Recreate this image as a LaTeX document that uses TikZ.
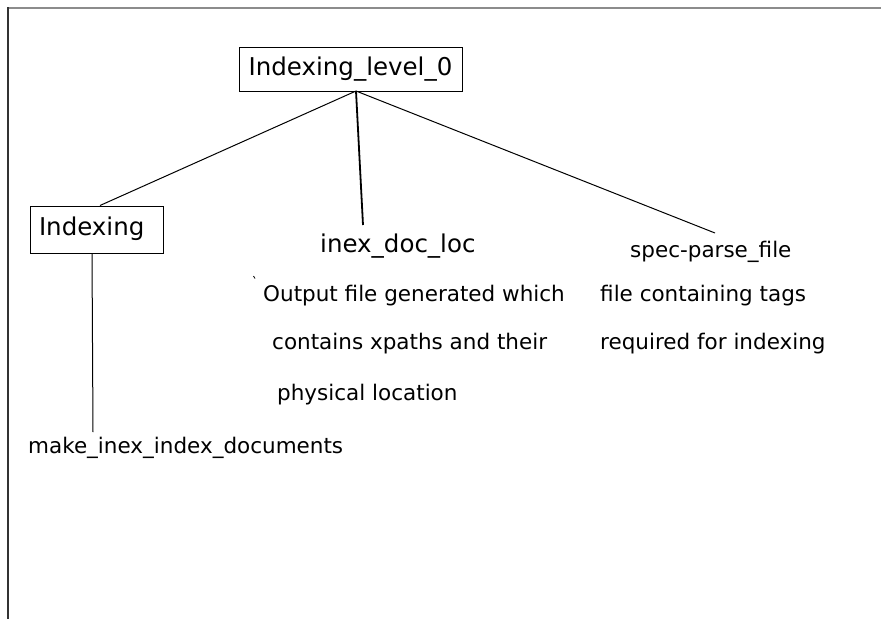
\documentclass[tikz,border=0pt]{standalone}
\usepackage{fontspec}
\setmainfont{DejaVu Sans}
\begin{document}
\begin{tikzpicture}[x=1pt,y=-1pt,
  big/.style={font=\fontsize{24.5}{29}\selectfont},
  small/.style={font=\fontsize{21.5}{26}\selectfont},
  boxed/.style={draw=black, line width=1pt, text height=18.6pt, text depth=5.9pt},
  lbl/.style={inner sep=0pt, anchor=base west},
  link/.style={line width=1pt, black}]
  \useasboundingbox[fill=white] (0,0) rectangle (881,619);

  % frame edges
  \draw[line width=2pt, gray!90] (7,7.5) -- (881,7.5);
  \draw[line width=2pt, black!80] (7.5,7) -- (7.5,619);

  % boxed nodes
  \node[boxed, big, minimum width=223pt, minimum height=44pt, inner sep=0pt] (top) at (350.5,69) {Indexing\_level\_0};
  \node[boxed, big, text width=115pt, align=left, inner xsep=9pt, minimum height=47pt, inner ysep=0pt] (idx) at (96.5,229.5) {Indexing};

  % labels under the root
  \node[lbl, big] (docloc) at (320,252) {inex\_doc\_loc};
  \node[lbl, small] (docloc1) at (263,301.7) {Output file generated which};
  \node[lbl, small] (docloc2) at (272,349) {contains xpaths and their};
  \node[lbl, small] (docloc3) at (277,400) {physical location};

  \node[lbl, small] (spec) at (630,257.3) {spec-parse\_file};
  \node[lbl, small] (spec1) at (600,301.7) {file containing tags};
  \node[lbl, small] (spec2) at (600,349) {required for indexing};

  \node[lbl, small] (make) at (28,453) {make\_inex\_index\_documents};

  % connector end points above the plain labels
  \coordinate (apex) at (356,91);
  \coordinate (docTop) at (363,225);
  \coordinate (specTop) at (715,233);
  \coordinate (makeTop) at (93,432);

  \draw[link] (apex) -- ([xshift=3.5pt]idx.north);
  \draw[link, line width=1.8pt] (apex) -- (docTop);
  \draw[link] (apex) -- (specTop);
  \draw[link] ([xshift=-4.5pt]idx.south) -- (makeTop);

  % small stray stroke
  \draw[line width=0.8pt] (253.5,276) -- (255,278.5);
\end{tikzpicture}
\end{document}
